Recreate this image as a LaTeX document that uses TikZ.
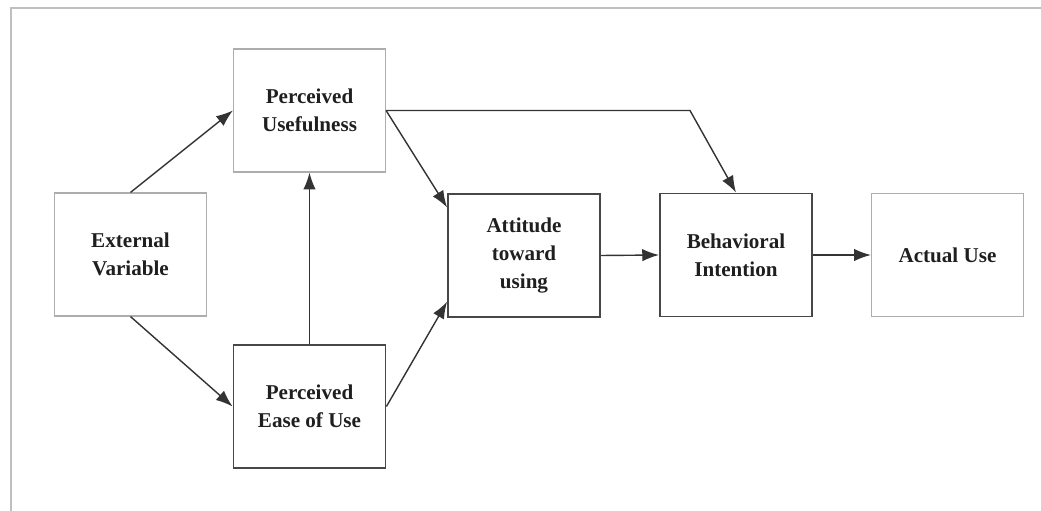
\documentclass[tikz,border=0pt]{standalone}
\usepackage{fontspec}
\setmainfont{Liberation Serif}
\usetikzlibrary{arrows.meta}

\begin{document}
\begin{tikzpicture}[x=0.025cm,y=-0.025cm,
    box/.style={draw=black!32,line width=0.8pt,minimum width=3.8cm,minimum height=3.075cm,
        align=center,text=black!88,font=\fontsize{15}{20}\selectfont\bfseries},
    dbox/.style={box,draw=black!72,line width=1.3pt},
    move/.style={-{Latex[length=4.2mm,width=3.1mm]},line width=1pt,black!80,draw}]

    \useasboundingbox (0,0) rectangle (1041,511);
    \draw[black!25,line width=1.2pt] (11,511) -- (11,8) -- (1041,8);

    \node[box]  (PU)   at (309.5,110.5) {Perceived\\Usefulness};
    \node[box]  (EV)   at (130.5,254.5) {External\\Variable};
    \node[dbox] (PEOU) at (309.5,406.5) {Perceived\\Ease of Use};
    \node[dbox] (ATU)  at (524,255.5) {Attitude\\toward\\using};
    \node[dbox] (BI)   at (736,255) {Behavioral\\Intention};
    \node[box]  (AU)   at (947.5,255) {Actual Use};
    \coordinate (bend) at (690,110.5);

    \path[move] (EV.north) -- (PU.west);
    \path[move] (EV.south) -- (PEOU.west);
    \path[move] (PEOU.north) -- (PU.south);
    \path[move] (PU.east) -- (ATU.148);
    \path[move] (PEOU.east) -- (ATU.211);
    \path[move] (PU.east) -- (bend) -- (BI.north);
    \path[move] (ATU.east) -- (BI.west);
    \path[move] (BI.east) -- (AU.west);
  \end{tikzpicture}
\end{document}
